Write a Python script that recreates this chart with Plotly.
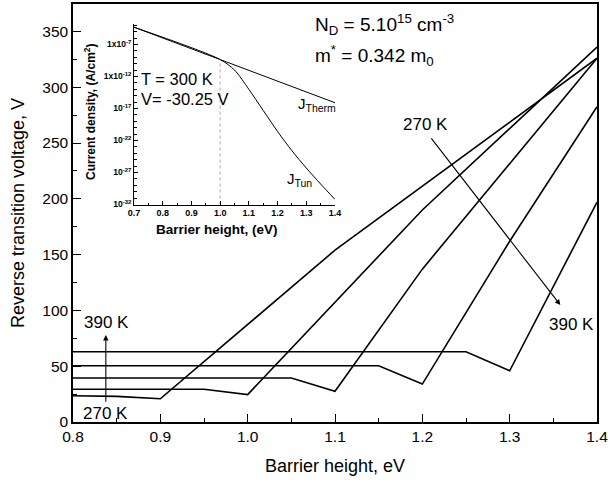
import plotly.graph_objects as go

# ---------------- data ----------------
x_270 = [0.8, 0.85, 0.9, 1.1, 1.4]
y_270 = [23.5, 23.0, 20.8, 154, 326]
x_300 = [0.8, 0.95, 1.0, 1.2, 1.4]
y_300 = [29.4, 29.4, 24.6, 190, 336]
x_330 = [0.8, 1.05, 1.1, 1.2, 1.4]
y_330 = [39.4, 39.4, 27.5, 137, 326]
x_360 = [0.8, 1.15, 1.2, 1.3, 1.4]
y_360 = [50.4, 50.4, 34.0, 162, 282.5]
x_390 = [0.8, 1.25, 1.3, 1.4]
y_390 = [63.0, 63.0, 45.9, 197]

# inset: current density (log10 exponents)
inset_x_therm = [0.7, 1.4]
inset_exp_therm = [-4.3, -16.1]
inset_x_tun = [0.7, 1.0, 1.05, 1.1, 1.15, 1.2, 1.25, 1.3, 1.35, 1.4]
inset_exp_tun = [-4.3, -9.35, -11.0, -14.0, -17.3, -20.6, -23.6, -26.3, -28.8, -31.2]
inset_ytick_exps = [-7, -12, -17, -22, -27, -32]
inset_ytick_text = ["1x10<sup>-7</sup>", "1x10<sup>-12</sup>", "10<sup>-17</sup>",
                    "10<sup>-22</sup>", "10<sup>-27</sup>", "10<sup>-32</sup>"]
main_xticks = [0.8, 0.9, 1.0, 1.1, 1.2, 1.3, 1.4]
main_yticks = [0, 50, 100, 150, 200, 250, 300, 350]
inset_xticks = [0.7, 0.8, 0.9, 1.0, 1.1, 1.2, 1.3, 1.4]

FONT = "Liberation Sans, Arial, sans-serif"
W, H = 608, 483
L, R, T, B = 73, 11, 4, 61
PW, PH = W - L - R, H - T - B

def px(xp):
    return (xp - L) / PW

def py(yp):
    return (H - B - yp) / PH

fig = go.Figure()
line = dict(color="black", width=1.6)
for xs, ys in [(x_270, y_270), (x_300, y_300), (x_330, y_330), (x_360, y_360), (x_390, y_390)]:
    fig.add_trace(go.Scatter(x=xs, y=ys, mode="lines", line=line, showlegend=False,
                             hoverinfo="skip"))

# inset traces
fig.add_trace(go.Scatter(x=inset_x_therm, y=[10.0 ** e for e in inset_exp_therm], mode="lines",
                         line=dict(color="black", width=1), xaxis="x2", yaxis="y2",
                         showlegend=False, hoverinfo="skip"))
fig.add_trace(go.Scatter(x=inset_x_tun, y=[10.0 ** e for e in inset_exp_tun], mode="lines",
                         line=dict(color="black", width=1, shape="spline", smoothing=0.8),
                         xaxis="x2", yaxis="y2", showlegend=False, hoverinfo="skip"))
fig.add_trace(go.Scatter(x=[1.0, 1.0], y=[1e-32, 10.0 ** inset_exp_tun[1]], mode="lines",
                         line=dict(color="#aaaaaa", width=1, dash="dot"), xaxis="x2", yaxis="y2",
                         showlegend=False, hoverinfo="skip"))

tickfont = dict(family=FONT, size=15.5, color="black")
fig.update_layout(
    width=W, height=H,
    margin=dict(l=L, r=R, t=T, b=B),
    paper_bgcolor="white", plot_bgcolor="white",
    font=dict(family=FONT, color="black"),
    xaxis=dict(range=[0.8, 1.4], tickvals=main_xticks,
               ticktext=["%.1f" % v for v in main_xticks],
               ticks="inside", ticklen=8, tickwidth=1.2, tickcolor="black",
               minor=dict(tickvals=[0.85, 0.95, 1.05, 1.15, 1.25, 1.35], ticks="inside",
                          ticklen=4, tickwidth=1.2, tickcolor="black"),
               showline=True, linecolor="black", linewidth=1.5, mirror=True,
               showgrid=False, zeroline=False, tickfont=tickfont, automargin=False,
               ticklabeloverflow="allow"),
    yaxis=dict(range=[0, 374.6], tickvals=main_yticks,
               ticks="inside", ticklen=8, tickwidth=1.2, tickcolor="black",
               minor=dict(tickvals=[25, 75, 125, 175, 225, 275, 325], ticks="inside",
                          ticklen=4, tickwidth=1.2, tickcolor="black"),
               showline=True, linecolor="black", linewidth=1.5, mirror=True,
               showgrid=False, zeroline=False, tickfont=tickfont, automargin=False,
               ticklabeloverflow="allow"),
    xaxis2=dict(domain=[px(134), px(335)], anchor="y2", range=[0.7, 1.40001],
                tickvals=inset_xticks, ticktext=["%.1f" % v for v in inset_xticks],
                ticks="inside", ticklen=4, tickwidth=1, tickcolor="black",
                minor=dict(tickvals=[0.75, 0.85, 0.95, 1.05, 1.15, 1.25, 1.35], ticks="inside",
                           ticklen=2, tickwidth=1, tickcolor="black"),
                showline=True, linecolor="black", linewidth=1, showgrid=False, zeroline=False,
                tickfont=dict(family=FONT, size=9, color="black", weight="bold")),
    yaxis2=dict(domain=[py(204.5), py(24)], anchor="x2", type="log", range=[-32, -3.8],
                tickvals=[10.0 ** e for e in inset_ytick_exps], ticktext=inset_ytick_text,
                ticks="inside", ticklen=4, tickwidth=1, tickcolor="black",
                minor=dict(tickvals=[10.0 ** e for e in range(-31, -3)], ticks="inside",
                           ticklen=2.5, tickwidth=1, tickcolor="black"),
                showline=True, linecolor="black", linewidth=1, showgrid=False, zeroline=False,
                tickfont=dict(family=FONT, size=8.5, color="black", weight="bold")),
)

ann = []
def text(x, y, s, size, xanchor="center", angle=0, bold=False):
    ann.append(dict(x=px(x), y=py(y), xref="paper", yref="paper", text=s, showarrow=False,
                    xanchor=xanchor, yanchor="middle", textangle=angle,
                    font=dict(family=FONT, size=size, color="black",
                              weight="bold" if bold else "normal")))

text(18, 213, "Reverse transition voltage, V", 18, angle=-90)
text(335, 466, "Barrier height, eV", 18)
text(313, 24, "N<sub>D</sub> = 5.10<sup>15</sup> cm<sup>-3</sup>", 19, xanchor="left")
text(313, 56, "m<sup>*</sup> = 0.342 m<sub>0</sub>", 19, xanchor="left")
text(425.5, 124.5, "270 K", 17)
text(571, 324, "390 K", 17)
text(106.7, 322.5, "390 K", 17)
text(105.5, 413.5, "270 K", 17)
# inset texts
text(139, 79, "T = 300 K", 16.5, xanchor="left")
text(139, 99, "V= -30.25 V", 16.5, xanchor="left")
text(296, 104, "J<sub>Therm</sub>", 15, xanchor="left")
text(285, 179, "J<sub>Tun</sub>", 15, xanchor="left")
text(90, 112, "Current density, (A/cm<sup>2</sup>)", 12, angle=-90, bold=True)
text(217, 229, "Barrier height, (eV)", 13.5, bold=True)

# arrows
ann.append(dict(x=1.358, y=104.8, ax=1.209, ay=255.6, xref="x", yref="y", axref="x", ayref="y",
                showarrow=True, arrowhead=2, arrowsize=1, arrowwidth=1.1, arrowcolor="black", text=""))
ann.append(dict(x=0.8376, y=78, ax=0.8376, ay=16.8, xref="x", yref="y", axref="x", ayref="y",
                showarrow=True, arrowhead=2, arrowsize=1, arrowwidth=1.1, arrowcolor="black", text=""))
fig.update_layout(annotations=ann)

fig.write_html("out.html")
